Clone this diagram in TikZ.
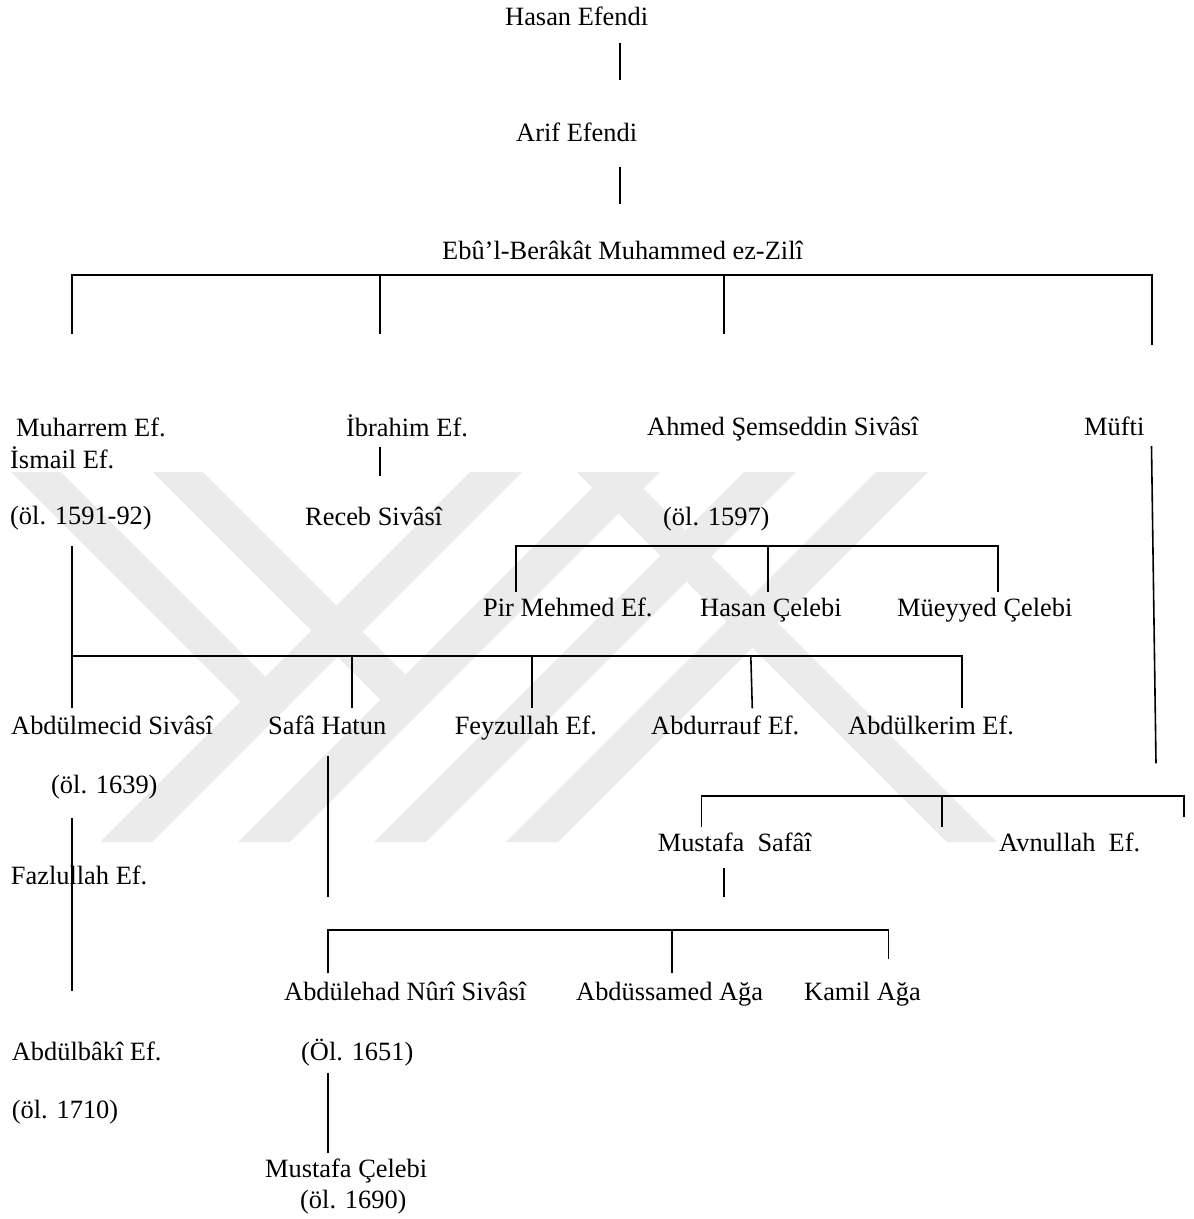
\documentclass[tikz,border=0pt]{standalone}
\usepackage{fontspec}
\setmainfont{Liberation Serif}
\tikzset{
  kin/.style={anchor=base west, inner sep=0pt, font=\fontsize{26.4}{30}\selectfont},
  link/.style={line width=1.6pt},
  mark band/.style={fill=black!8, draw=none}
}

\begin{document}
\begin{tikzpicture}[x=1pt,y=-1pt]
      \useasboundingbox (0,0) rectangle (1194,1219);
      % watermark
      \foreach \a in {470,608,744,876}
        \fill[mark band] (\a,472) -- (\a+52,472) -- (\a-318,842) -- (\a-370,842) -- cycle;
      \fill[mark band] (11,472) -- (61,472) -- (291.5,702.5) -- (266.5,727.5) -- cycle;
      \fill[mark band] (153,472) -- (203,472) -- (431.5,700.5) -- (406.5,725.5) -- cycle;
      \fill[mark band] (577,472) -- (627,472) -- (997,842) -- (947,842) -- cycle;
      % names
      \node[kin] (hasan)      at (505,25)     {Hasan Efendi};
      \node[kin] (arif)       at (516,141.7)  {Arif Efendi};
      \node[kin] (ebu)        at (442,259)    {Ebû’l-Berâkât Muhammed ez-Zilî};
      \node[kin] (muharrem)   at (16,436)     {Muharrem Ef.};
      \node[kin] (ismail)     at (10,468.3)   {İsmail Ef.};
      \node[kin] (olmuh)      at (10,524)     {(öl. 1591-92)};
      \node[kin] (ibrahim)    at (346,436)    {İbrahim Ef.};
      \node[kin] (receb)      at (305,525)    {Receb Sivâsî};
      \node[kin] (ahmed)      at (647,435)    {Ahmed Şemseddin Sivâsî};
      \node[kin] (olahmed)    at (663,525)    {(öl. 1597)};
      \node[kin] (mufti)      at (1084,435)   {Müfti};
      \node[kin] (pir)        at (483,616.7)  {Pir Mehmed Ef.};
      \node[kin] (hasancel)   at (700,616.7)  {Hasan Çelebi};
      \node[kin] (mueyyed)    at (897,616.7)  {Müeyyed Çelebi};
      \node[kin] (abdulmecid) at (11,734.3)   {Abdülmecid Sivâsî};
      \node[kin] (safa)       at (268,734.3)  {Safâ Hatun};
      \node[kin] (feyzullah)  at (454.6,734.3){Feyzullah Ef.};
      \node[kin] (abdurrauf)  at (651,734.3)  {Abdurrauf Ef.};
      \node[kin] (abdulkerim) at (848,734.3)  {Abdülkerim Ef.};
      \node[kin] (olmecid)    at (51,793.3)   {(öl. 1639)};
      \node[kin] (mustafas)   at (657.6,851.7){Mustafa\ \ Safâî};
      \node[kin] (avnullah)   at (999,851.7)  {Avnullah\ \ Ef.};
      \node[kin] (fazlullah)  at (10.7,884)   {Fazlullah Ef.};
      \node[kin] (abdulehad)  at (284,1000.7) {Abdülehad Nûrî Sivâsî};
      \node[kin] (abdussamed) at (576,1000.7) {Abdüssamed Ağa};
      \node[kin] (kamil)      at (804,1000.7) {Kamil Ağa};
      \node[kin] (abdulbaki)  at (11.7,1060)  {Abdülbâkî Ef.};
      \node[kin] (olehad)     at (301,1060)   {(Öl. 1651)};
      \node[kin] (olbaki)     at (11.7,1118)  {(öl. 1710)};
      \node[kin] (mustafac)   at (265,1177)   {Mustafa Çelebi};
      \node[kin] (olmustafa)  at (300,1208)   {(öl. 1690)};
      % line ends
      \coordinate (hasan-d) at (620,43);   \coordinate (arif-u) at (620,80);
      \coordinate (arif-d)  at (620,167);  \coordinate (ebu-u)  at (620,204);
      \coordinate (bus1-l) at (72,275);    \coordinate (bus1-r) at (1152,275);
      \coordinate (bus1-b) at (380,275);   \coordinate (bus1-c) at (724,275);
      \coordinate (muh-u) at (72,334);     \coordinate (ibr-u) at (380,334);
      \coordinate (ahm-u) at (724,334);    \coordinate (muf-u) at (1152,345);
      \coordinate (ibr-d) at (380,447);    \coordinate (rec-u) at (380,476);
      \coordinate (ahm-l) at (516,545.7);  \coordinate (ahm-r) at (997.7,545.7);
      \coordinate (ahm-m) at (767.8,545.7);
      \coordinate (pir-u) at (516,591.7);  \coordinate (hcel-u) at (767.8,591.7);
      \coordinate (mue-u) at (997.7,591.7);
      \coordinate (muh-d) at (72,545.7);   \coordinate (bus2-l) at (72,656);
      \coordinate (bus2-r) at (961.7,656);
      \coordinate (mec-u) at (72,708.3);   \coordinate (saf-u) at (352,708.3);
      \coordinate (fey-u) at (532,708.3);  \coordinate (rau-u) at (752.3,708.3);
      \coordinate (rau-t) at (750.8,656);  \coordinate (ker-u) at (961.7,708.3);
      \coordinate (muf-d) at (1151.5,446); \coordinate (muf-e) at (1156,763.3);
      \coordinate (bus3-l) at (701.5,796); \coordinate (bus3-r) at (1184,796);
      \coordinate (mus-u) at (701.5,827.3);\coordinate (bus3-m) at (942,796);
      \coordinate (mid-u) at (942,827.3);  \coordinate (avn-u) at (1184,817.3);
      \coordinate (mus-d) at (724,868.3);  \coordinate (mus-e) at (724,897.3);
      \coordinate (mec-d) at (72,817.7);   \coordinate (baki-u) at (72,991);
      \coordinate (saf-d) at (328,756);    \coordinate (saf-e) at (328,897);
      \coordinate (bus4-l) at (328,930);   \coordinate (bus4-r) at (888.6,930);
      \coordinate (bus4-m) at (672,930);
      \coordinate (ehad-u) at (328,973.3); \coordinate (sam-u) at (672,973.3);
      \coordinate (kam-u) at (888.6,959.3);
      \coordinate (ehad-d) at (327.7,1072.7); \coordinate (musc-u) at (327.7,1153);
      % connectors
      \draw[link] (hasan-d) -- (arif-u);
      \draw[link] (arif-d) -- (ebu-u);
      \draw[link] (muh-u) -- (bus1-l) -- (bus1-r) -- (muf-u);
      \draw[link] (bus1-b) -- (ibr-u);
      \draw[link] (bus1-c) -- (ahm-u);
      \draw[link] (ibr-d) -- (rec-u);
      \draw[link] (pir-u) -- (ahm-l) -- (ahm-r) -- (mue-u);
      \draw[link] (ahm-m) -- (hcel-u);
      \draw[link] (muh-d) -- (mec-u);
      \draw[link] (bus2-l) -- (bus2-r) -- (ker-u);
      \draw[link] (saf-u |- bus2-l) -- (saf-u);
      \draw[link] (fey-u |- bus2-l) -- (fey-u);
      \draw[link] (rau-t) -- (rau-u);
      \draw[link] (muf-d) -- (muf-e);
      \draw[link] (mus-u) -- (bus3-l) -- (bus3-r) -- (avn-u);
      \draw[link] (bus3-m) -- (mid-u);
      \draw[link] (mus-d) -- (mus-e);
      \draw[link] (mec-d) -- (baki-u);
      \draw[link] (saf-d) -- (saf-e);
      \draw[link] (ehad-u) -- (bus4-l) -- (bus4-r) -- (kam-u);
      \draw[link] (bus4-m) -- (sam-u);
      \draw[link] (ehad-d) -- (musc-u);
\end{tikzpicture}
\end{document}
